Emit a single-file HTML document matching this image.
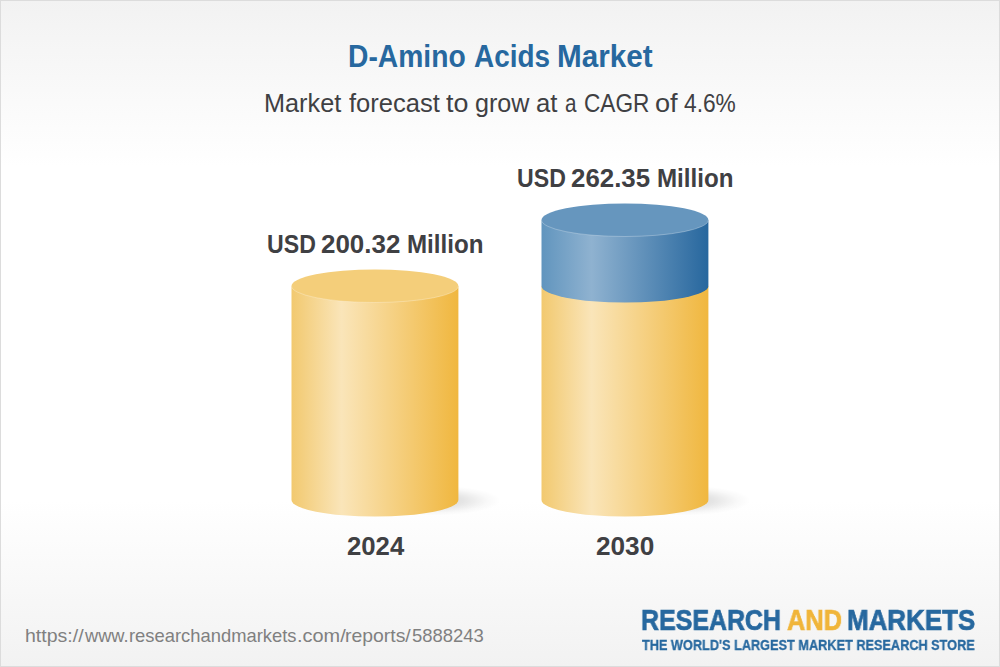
<!DOCTYPE html>
<html>
<head>
<meta charset="utf-8">
<title>D-Amino Acids Market</title>
<style>
html,body{margin:0;padding:0;}
body{width:1000px;height:667px;overflow:hidden;font-family:"Liberation Sans",sans-serif;}
#page{position:relative;width:1000px;height:667px;
  background:linear-gradient(to bottom,#f2f2f2 0%,#ffffff 25%,#ffffff 75%,#f2f2f2 100%);overflow:hidden;}
.t{position:absolute;white-space:nowrap;line-height:1;transform-origin:left top;margin:0;}
svg{position:absolute;left:0;top:0;}
#frame{position:absolute;left:0;top:0;width:998px;height:665px;border:1px solid #dcdcdc;pointer-events:none;}
</style>
</head>
<body>
<div id="page">
<svg width="1000" height="667" viewBox="0 0 1000 667">
  <defs>
    <linearGradient id="gy" x1="0" x2="1" y1="0" y2="0">
      <stop offset="0" stop-color="#f2c96f"/>
      <stop offset="0.30" stop-color="#fae5b9"/>
      <stop offset="1" stop-color="#f0b73f"/>
    </linearGradient>
    <linearGradient id="gb" x1="0" x2="1" y1="0" y2="0">
      <stop offset="0" stop-color="#6195be"/>
      <stop offset="0.30" stop-color="#8fb2d0"/>
      <stop offset="1" stop-color="#27679e"/>
    </linearGradient>
    <radialGradient id="sh" cx="0.5" cy="0.5" r="0.5">
      <stop offset="0" stop-color="#000" stop-opacity="0.17"/>
      <stop offset="0.45" stop-color="#000" stop-opacity="0.10"/>
      <stop offset="0.8" stop-color="#000" stop-opacity="0.025"/>
      <stop offset="1" stop-color="#000" stop-opacity="0"/>
    </radialGradient>
  </defs>
  <!-- shadows -->
  <ellipse cx="434.5" cy="500.5" rx="66" ry="15" fill="url(#sh)"/>
  <ellipse cx="684.5" cy="500.5" rx="66" ry="15" fill="url(#sh)"/>
  <!-- cylinder 1 -->
  <path d="M291.5 286 L291.5 500 A83.45 16.5 0 0 0 458.4 500 L458.4 286 Z" fill="url(#gy)"/>
  <ellipse cx="374.95" cy="286" rx="83.45" ry="16.5" fill="#f4ce7a"/>
  <path d="M291.5 286 A83.45 16.5 0 0 0 458.4 286" fill="none" stroke="#fff" stroke-opacity="0.34" stroke-width="0.8"/>
  <!-- cylinder 2 -->
  <path d="M541.5 286 L541.5 500 A83.45 16.5 0 0 0 708.4 500 L708.4 286 Z" fill="url(#gy)"/>
  <path d="M541.5 220 L541.5 286 A83.45 16.5 0 0 0 708.4 286 L708.4 220 Z" fill="url(#gb)"/>
  <ellipse cx="624.95" cy="220" rx="83.45" ry="16.5" fill="#6696be"/>
  <path d="M541.5 220 A83.45 16.5 0 0 0 708.4 220" fill="none" stroke="#fff" stroke-opacity="0.34" stroke-width="0.8"/>
</svg>
<span class="t" style="left:348.18px;top:41.0px;font-size:31px;color:#27689f;transform:scaleX(0.9111);font-weight:bold;">D-Amino</span>
<span class="t" style="left:473.72px;top:41.0px;font-size:31px;color:#27689f;transform:scaleX(0.9006);font-weight:bold;">Acids</span>
<span class="t" style="left:557.09px;top:41.0px;font-size:31px;color:#27689f;transform:scaleX(0.9559);font-weight:bold;">Market</span>
<span class="t" style="left:264.04px;top:91.15px;font-size:25.8px;color:#3f4043;transform:scaleX(0.9798);">Market</span>
<span class="t" style="left:348.55px;top:91.15px;font-size:25.8px;color:#3f4043;transform:scaleX(0.9907);">forecast</span>
<span class="t" style="left:446.18px;top:91.15px;font-size:25.8px;color:#3f4043;transform:scaleX(1.0400);">to</span>
<span class="t" style="left:474.53px;top:91.15px;font-size:25.8px;color:#3f4043;transform:scaleX(0.9745);">grow</span>
<span class="t" style="left:536.10px;top:91.15px;font-size:25.8px;color:#3f4043;transform:scaleX(0.9975);">at</span>
<span class="t" style="left:564.50px;top:91.15px;font-size:25.8px;color:#3f4043;transform:scaleX(0.8000);">a</span>
<span class="t" style="left:583.60px;top:91.15px;font-size:25.8px;color:#3f4043;transform:scaleX(0.8778);">CAGR</span>
<span class="t" style="left:654.65px;top:91.15px;font-size:25.8px;color:#3f4043;transform:scaleX(1.0537);">of</span>
<span class="t" style="left:684.26px;top:91.15px;font-size:25.8px;color:#3f4043;transform:scaleX(0.8817);">4.6%</span>
<span class="t" style="left:266.67px;top:230.8px;font-size:26px;color:#3f4043;transform:scaleX(0.8900);font-weight:bold;">USD</span>
<span class="t" style="left:321.30px;top:230.8px;font-size:26px;color:#3f4043;transform:scaleX(0.9974);font-weight:bold;">200.32</span>
<span class="t" style="left:406.97px;top:230.8px;font-size:26px;color:#3f4043;transform:scaleX(0.9291);font-weight:bold;">Million</span>
<span class="t" style="left:516.67px;top:164.9px;font-size:26px;color:#3f4043;transform:scaleX(0.8900);font-weight:bold;">USD</span>
<span class="t" style="left:571.31px;top:164.9px;font-size:26px;color:#3f4043;transform:scaleX(0.9942);font-weight:bold;">262.35</span>
<span class="t" style="left:656.97px;top:164.9px;font-size:26px;color:#3f4043;transform:scaleX(0.9291);font-weight:bold;">Million</span>
<span class="t" style="left:346.50px;top:533.6px;font-size:25.6px;color:#3f4043;transform:scaleX(1.0045);font-weight:bold;">2024</span>
<span class="t" style="left:596.48px;top:533.6px;font-size:25.6px;color:#3f4043;transform:scaleX(1.0228);font-weight:bold;">2030</span>
<span class="t" style="left:25.22px;top:626.0px;font-size:19.0px;color:#808080;transform:scaleX(1.0278);">https://</span>
<span class="t" style="left:85.00px;top:626.0px;font-size:19.0px;color:#808080;transform:scaleX(0.9600);">www.</span>
<span class="t" style="left:128.79px;top:626.0px;font-size:19.0px;color:#808080;transform:scaleX(0.9670);">researchandmarkets</span>
<span class="t" style="left:296.67px;top:626.0px;font-size:19.0px;color:#808080;transform:scaleX(1.0480);">.com/</span>
<span class="t" style="left:345.12px;top:626.0px;font-size:19.0px;color:#808080;transform:scaleX(1.0206);">reports/</span>
<span class="t" style="left:411.87px;top:626.0px;font-size:19.0px;color:#808080;transform:scaleX(0.9716);">5888243</span>
<span class="t" style="left:640.71px;top:605.65px;font-size:29px;color:#27689f;transform:scaleX(0.8607);font-weight:bold;-webkit-text-stroke:0.7px #27689f;will-change:transform;">RESEARCH</span>
<span class="t" style="left:787.48px;top:605.65px;font-size:29px;color:#f0b53a;transform:scaleX(0.8729);font-weight:bold;-webkit-text-stroke:0.7px #f0b53a;will-change:transform;">AND</span>
<span class="t" style="left:847.26px;top:605.65px;font-size:29px;color:#27689f;transform:scaleX(0.8943);font-weight:bold;-webkit-text-stroke:0.7px #27689f;will-change:transform;">MARKETS</span>
<span class="t" style="left:641.90px;top:638.0px;font-size:14.3px;color:#27689f;transform:scaleX(0.8896);font-weight:bold;-webkit-text-stroke:0.3px #27689f;will-change:transform;">THE WORLD'S LARGEST MARKET RESEARCH STORE</span>
<div id="frame"></div>
</div>
</body>
</html>
